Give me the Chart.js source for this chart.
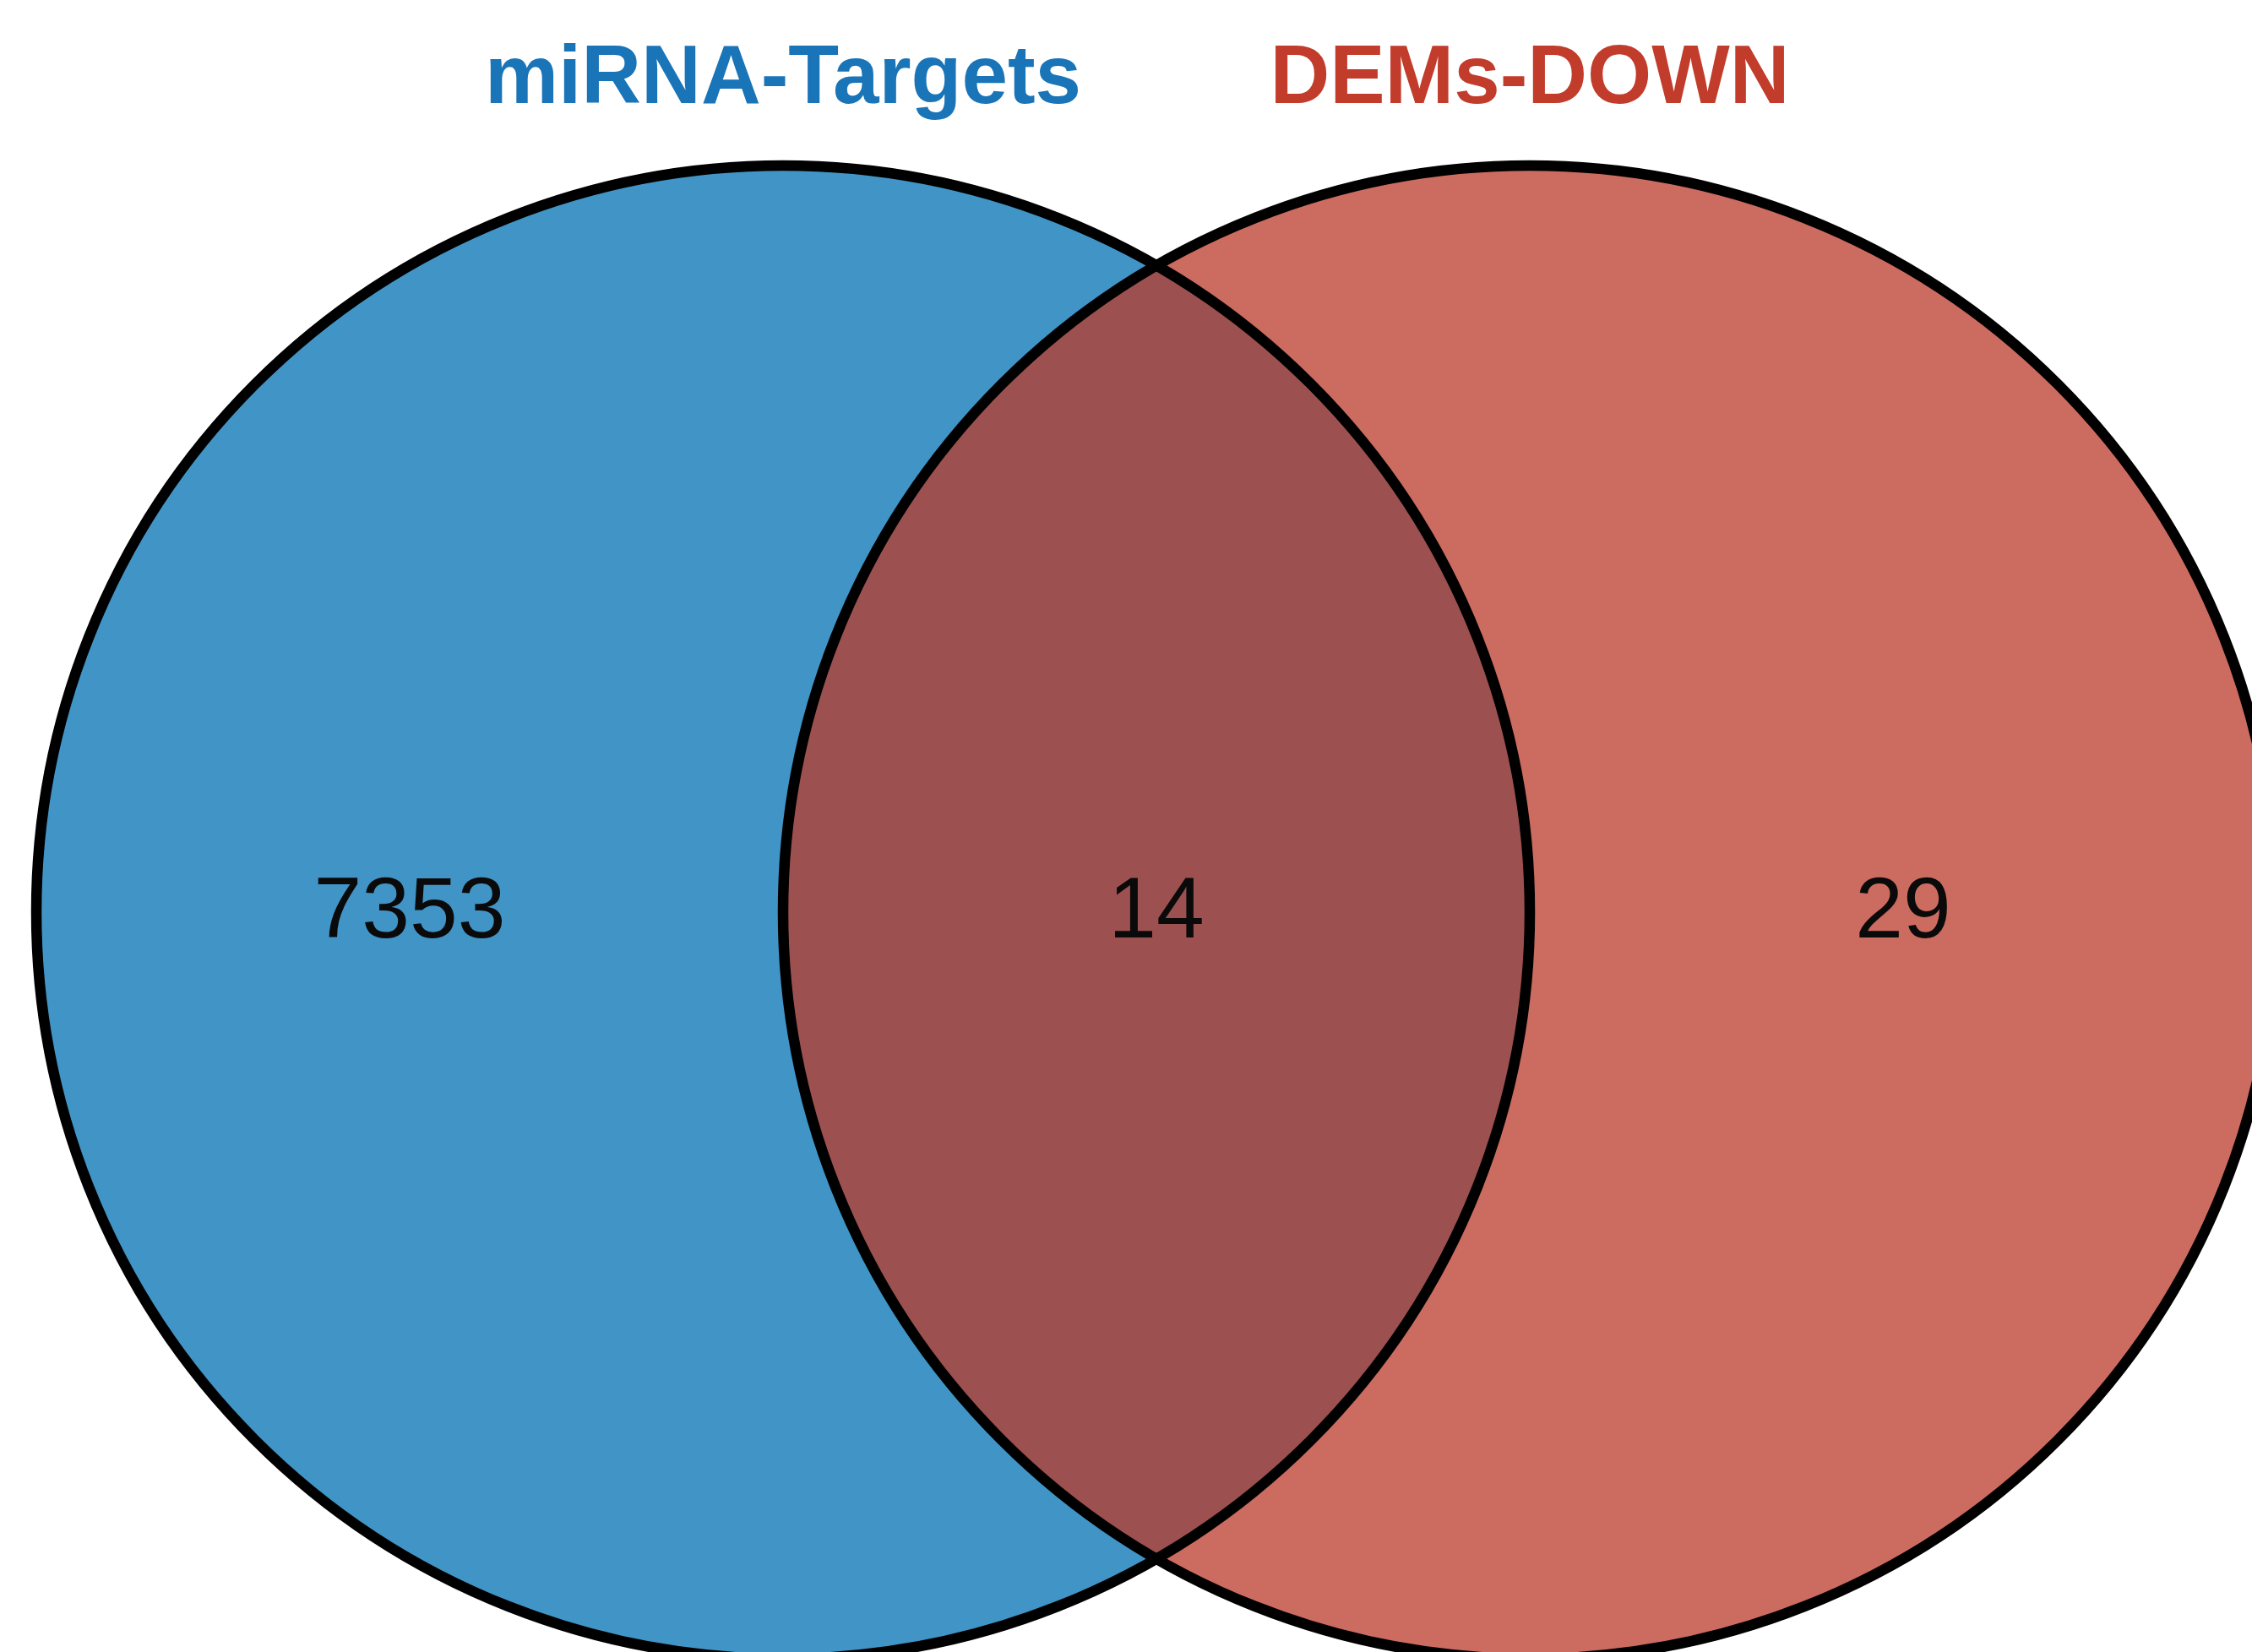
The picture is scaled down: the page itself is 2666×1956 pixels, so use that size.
<!DOCTYPE html>
<html>
<head>
<meta charset="utf-8">
<script src="https://cdn.jsdelivr.net/npm/chart.js@4/dist/chart.umd.min.js"></script>
<style>
  html, body { margin: 0; padding: 0; background: #ffffff; }
  #wrap { width: 2666px; height: 1956px; }
</style>
</head>
<body>
<div id="wrap"><canvas id="c" width="2666" height="1956"></canvas></div>
<script>
// ---- Data ----
const setNames = ["miRNA-Targets", "DEMs-DOWN"];
const regionLabels = ["miRNA-Targets only", "Both", "DEMs-DOWN only"];
const regionCounts = [7353, 14, 29];

// ---- Layout / style (not data) ----
const setCenters = [0, 1];          // circle centres on the hidden x scale (unit = radius)
const regionX = [-0.5, 0.5, 1.5];   // label positions on the hidden x scale
const titleY = 1.084;               // title baseline on the hidden y scale
const setColors = ["#4194C6", "#CC6B5F"];
const overlapColor = "#9C5150";
const titleColors = ["#1A74B8", "#C23C2C"];

const vennPlugin = {
  id: 'venn',
  beforeDatasetsDraw(chart) {
    const ctx = chart.ctx;
    const xs = chart.scales.x, ys = chart.scales.y;
    const cy = ys.getPixelForValue(0);
    const r = xs.getPixelForValue(1) - xs.getPixelForValue(0);
    const cx = setCenters.map(v => xs.getPixelForValue(v));
    const circle = (x) => { ctx.beginPath(); ctx.arc(x, cy, r, 0, Math.PI * 2); ctx.closePath(); };
    ctx.save();
    circle(cx[0]); ctx.fillStyle = setColors[0]; ctx.fill();
    circle(cx[1]); ctx.fillStyle = setColors[1]; ctx.fill();
    ctx.save();
    circle(cx[0]); ctx.clip();
    circle(cx[1]); ctx.fillStyle = overlapColor; ctx.fill();
    ctx.restore();
    ctx.lineWidth = 12.5;
    ctx.strokeStyle = "#000000";
    circle(cx[0]); ctx.stroke();
    circle(cx[1]); ctx.stroke();
    ctx.restore();
  },
  afterDatasetsDraw(chart) {
    const ctx = chart.ctx;
    const xs = chart.scales.x, ys = chart.scales.y;
    ctx.save();
    ctx.textAlign = 'center';
    ctx.textBaseline = 'middle';
    ctx.fillStyle = '#0a0a0a';
    ctx.font = '102px "Liberation Sans", Arial, sans-serif';
    const ds = chart.data.datasets[0].data;
    ds.forEach((p, i) => {
      ctx.fillText(String(regionCounts[i]), xs.getPixelForValue(p.x), ys.getPixelForValue(p.y) + 2);
    });
    ctx.font = 'bold 98px "Liberation Sans", Arial, sans-serif';
    ctx.textBaseline = 'alphabetic';
    setNames.forEach((n, i) => {
      ctx.fillStyle = titleColors[i];
      ctx.fillText(n, xs.getPixelForValue(setCenters[i]), ys.getPixelForValue(titleY));
    });
    ctx.restore();
  }
};

new Chart(document.getElementById('c'), {
  type: 'scatter',
  data: {
    labels: regionLabels,
    datasets: [{
      label: 'regions',
      data: regionCounts.map((v, i) => ({ x: regionX[i], y: 0, count: v })),
      pointRadius: 0,
      pointHoverRadius: 0
    }]
  },
  options: {
    responsive: false,
    devicePixelRatio: 1,
    animation: false,
    layout: { padding: 0 },
    plugins: { legend: { display: false }, tooltip: { enabled: false } },
    scales: {
      x: { type: 'linear', display: false, min: -927 / 884, max: (2666 - 927) / 884 },
      y: { type: 'linear', display: false, min: -(1956 - 1080) / 884, max: 1080 / 884 }
    }
  },
  plugins: [vennPlugin]
});
</script>
</body>
</html>
